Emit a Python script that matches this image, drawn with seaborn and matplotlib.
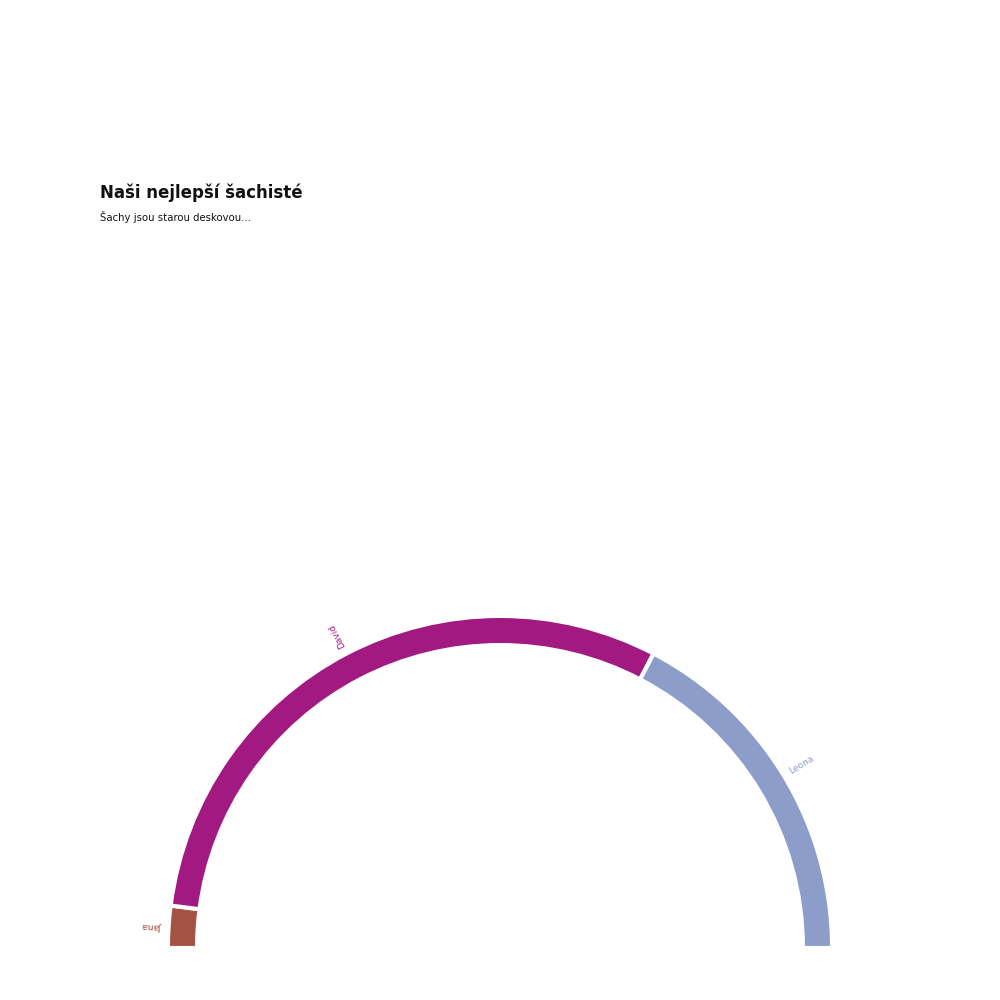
import numpy as np
import matplotlib
matplotlib.use("Agg")
import matplotlib.pyplot as plt
import seaborn as sns

# data
players = ["Jana", "David", "Leona"]
scores = [2, 30, 17]
colors = ["#A45244", "#A21A81", "#8C9DCA"]

title = "Naši nejlepší šachisté"
subtitle = "Šachy jsou starou deskovou..."

sns.set_theme(style="white")
plt.rcParams["font.family"] = ["DejaVu Sans"]

fig = plt.figure(figsize=(10, 10), dpi=100)
fig.patch.set_facecolor("white")

# half donut: center at (500, 948) px, outer radius 330 px
R = 330
ax = fig.add_axes([(500 - R) / 1000, 1 - (948 + R) / 1000, 2 * R / 1000, 2 * R / 1000])

lw = 3.0
pad = lw * 100 / 72 / 2  # half the white edge, in px

total = sum(scores)
vals = scores + [total]  # hidden lower half
wedges, _ = ax.pie(vals, startangle=180, counterclock=False,
                   colors=colors + ["none"], radius=(R + pad) / R,
                   wedgeprops=dict(width=(25 + 2 * pad) / R,
                                   edgecolor="white", linewidth=lw))
wedges[-1].set_visible(False)
for w in wedges:
    w.set_clip_on(False)

ax.set_xlim(-1, 1)
ax.set_ylim(-1, 1)
ax.set_aspect("equal")
ax.axis("off")

# labels, radial
ang = 180.0
for name, val, col in zip(players, scores, colors):
    span = 180.0 * val / total
    mid = ang - span / 2
    ang -= span
    r = 339 / R
    ax.text(r * np.cos(np.radians(mid)), r * np.sin(np.radians(mid)), name,
            rotation=mid, rotation_mode="anchor", ha="left", va="center",
            fontsize=6.5, color=col, clip_on=False)

fig.text(0.10, 1 - 193 / 1000, title, fontsize=12, fontweight="bold",
         color="#111111", ha="left", va="center")
fig.text(0.10, 1 - 217 / 1000, subtitle, fontsize=7.3, color="#111111",
         ha="left", va="center")

fig.savefig("out.png", dpi=100, facecolor="white")
